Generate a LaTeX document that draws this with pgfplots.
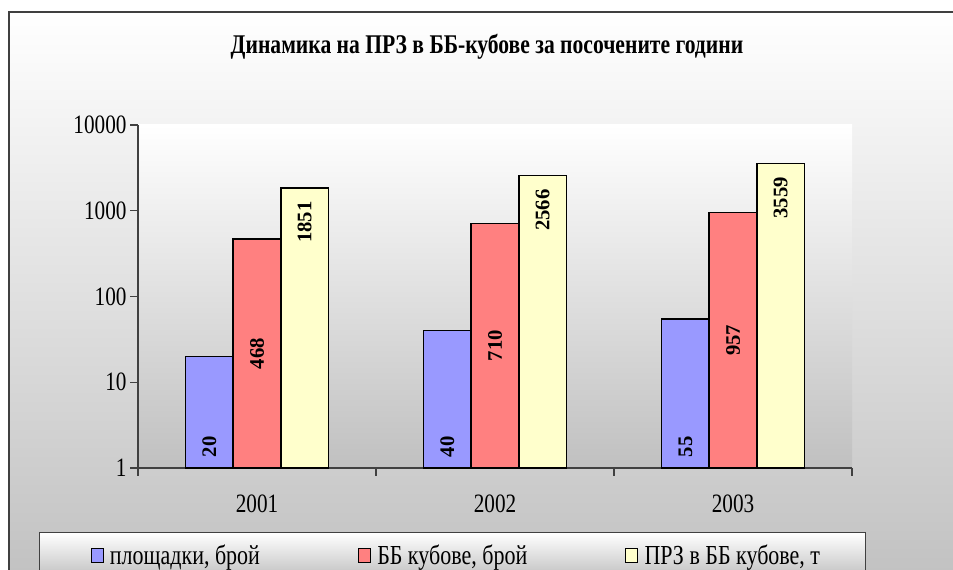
\documentclass[border=0pt]{standalone}
\usepackage{pgfplots}
\pgfplotsset{compat=1.18}
\usepackage{pgfplotstable}
\usepackage{fontspec}
\setmainfont{Liberation Serif}[FakeStretch=0.8]
\newfontfamily\lblfont{Liberation Serif}
\definecolor{cgray}{HTML}{C0C0C0}
\definecolor{cblue}{HTML}{9999FF}
\definecolor{cred}{HTML}{FF8080}
\definecolor{cyel}{HTML}{FFFFCC}
\definecolor{cline}{HTML}{404040}

\pgfplotstableread{
x a b c
0 20 468 1851
1 40 710 2566
2 55 957 3559
}\datatable

\begin{document}
\begin{tikzpicture}
\useasboundingbox (0,0) rectangle (953bp,-570bp);
\shade[top color=white, bottom color=cgray] (9bp,-12bp) rectangle (980bp,-590bp);
\draw[cline, line width=2bp] (9bp,-600bp) -- (9bp,-12bp) -- (990bp,-12bp);
\node[font=\bfseries\fontsize{27bp}{30bp}\selectfont] at (487bp,-47bp) {Динамика на ПРЗ в ББ-кубове за посочените години};
\begin{axis}[
  at={(138bp,-468bp)}, anchor=south west, scale only axis,
  width=714bp, height=343bp,
  ymode=log, ymin=1, ymax=10000, xmin=-0.5, xmax=2.5,
  axis x line*=bottom, axis y line*=left,
  axis line style={cline, line width=1.2bp},
  axis background/.style={shade, top color=white, bottom color=cgray},
  ytick={1,10,100,1000,10000}, yticklabels={1,10,100,1000,10000}, yminorticks=false,
  xtick={0,1,2}, xticklabels={2001,2002,2003},
  minor xtick={-0.5,0.5,1.5,2.5},
  major x tick style={draw=none},
  tick align=outside, major tick length=8bp, minor tick length=8bp,
  tick style={cline, line width=1.2bp},
  tick label style={font=\fontsize{26.5bp}{30bp}\selectfont},
  xticklabel style={yshift=-15bp},
  ybar, bar width=0.2,
  legend style={at={(-0.1387,-0.1866)}, anchor=north west, legend columns=3,
    draw=cline, line width=1.2bp, top color=white, bottom color=cgray,
    inner xsep=51bp, inner ysep=12bp, font=\fontsize{27.5bp}{30bp}\selectfont,
    nodes={inner sep=0pt}, column sep=0pt},
  legend image code/.code={\draw[#1, line width=1.2bp] (0bp,-7bp) rectangle (12bp,7bp); \path (18bp,0bp);},
]
\addplot[fill=cblue, draw=black, line width=1.5bp, bar shift=-0.2,
  nodes near coords, point meta=explicit symbolic,
  visualization depends on={log10(\thisrow{a})*85.75 \as \barh},
  every node near coord/.append style={font=\lblfont\bfseries\fontsize{20.7bp}{22bp}\selectfont,
    yshift={-\barh bp+10bp}, rotate=90, anchor=west, inner sep=0pt}]
  table[x=x, y=a, meta=a] {\datatable};
\addlegendentry{\makebox[248bp][l]{площадки, брой}}
\addplot[fill=cred, draw=black, line width=1.5bp, bar shift=0,
  nodes near coords, point meta=explicit symbolic,
  visualization depends on={log10(\thisrow{b})*85.75 \as \barh},
  every node near coord/.append style={font=\lblfont\bfseries\fontsize{20.7bp}{22bp}\selectfont,
    yshift={-0.5*\barh bp}, rotate=90, anchor=center, inner sep=0pt}]
  table[x=x, y=b, meta=b] {\datatable};
\addlegendentry{\makebox[248bp][l]{ББ кубове, брой}}
\addplot[fill=cyel, draw=black, line width=1.5bp, bar shift=0.2,
  nodes near coords, point meta=explicit symbolic,
  every node near coord/.append style={font=\lblfont\bfseries\fontsize{20.7bp}{22bp}\selectfont,
    yshift=-13bp, rotate=90, anchor=east, inner sep=0pt}]
  table[x=x, y=c, meta=c] {\datatable};
\addlegendentry{\makebox[170bp][l]{ПРЗ в ББ кубове, т}}
\end{axis}
\end{tikzpicture}
\end{document}
